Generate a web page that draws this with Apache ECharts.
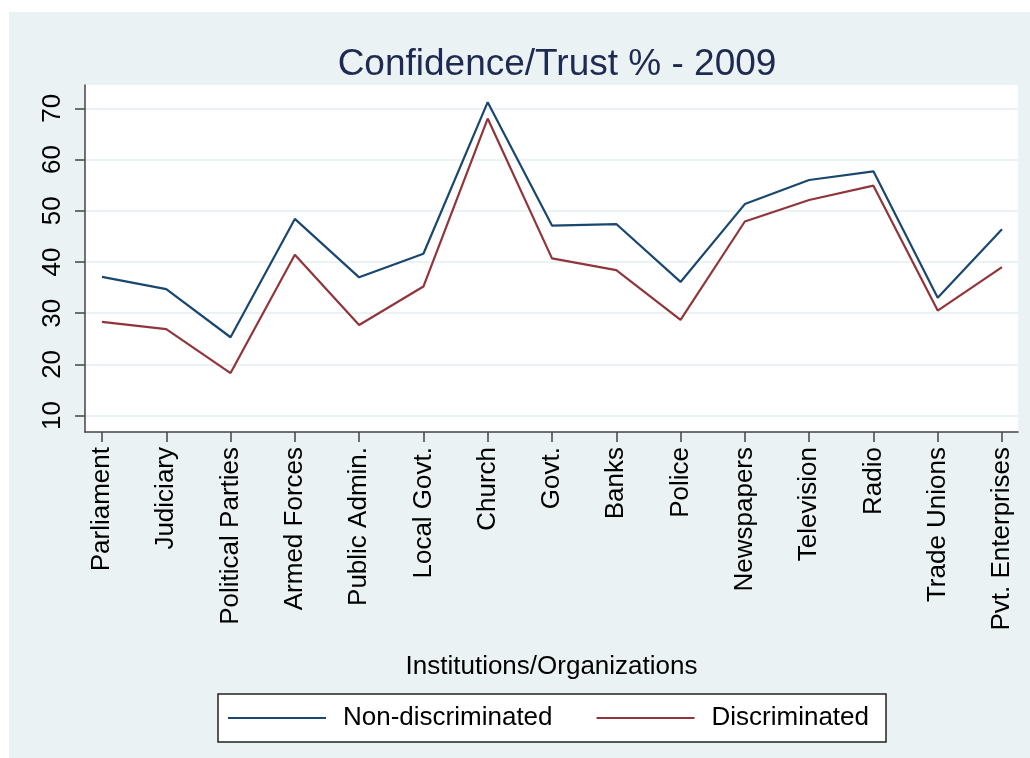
<!DOCTYPE html>
<html>
<head>
<meta charset="utf-8">
<script src="https://cdn.jsdelivr.net/npm/echarts@6/dist/echarts.min.js"></script>
<style>
  html, body { margin: 0; padding: 0; background: #fff; }
  #chart { position: absolute; left: 9px; top: 12px; width: 1021px; height: 746px; background: #eaf2f3; }
</style>
</head>
<body>
<div id="chart"></div>
<script>
// categories along the x axis
const institutions = ['Parliament', 'Judiciary', 'Political Parties', 'Armed Forces', 'Public Admin.',
  'Local Govt.', 'Church', 'Govt.', 'Banks', 'Police', 'Newspapers', 'Television', 'Radio',
  'Trade Unions', 'Pvt. Enterprises'];

// trust % per institution
const nonDiscriminated = [37.1, 34.7, 25.3, 48.4, 37.0, 41.6, 71.2, 47.1, 47.4, 36.1, 51.3, 56.0, 57.7, 33.0, 46.4];
const discriminated = [28.3, 26.9, 18.3, 41.4, 27.7, 35.2, 68.0, 40.7, 38.4, 28.7, 47.9, 52.1, 54.9, 30.5, 39.0];

const yTicks = [10, 20, 30, 40, 50, 60, 70];

const font = '"Liberation Sans", Arial, sans-serif';
const xTicks = institutions.map((_, i) => i);

const chart = echarts.init(document.getElementById('chart'));

chart.setOption({
  animation: false,
  title: {
    text: 'Confidence/Trust % - 2009',
    left: 543,
    top: 29,
    textAlign: 'center',
    textStyle: { fontFamily: font, fontSize: 37, fontWeight: 'normal', color: '#1e2a52' }
  },
  legend: {
    left: 209,
    top: 682,
    padding: [11, 17, 11, 10],
    backgroundColor: '#fff',
    borderColor: '#222',
    borderWidth: 1.5,
    borderRadius: 0,
    itemWidth: 98,
    itemHeight: 2,
    itemGap: 44,
    icon: 'rect',
    textStyle: { fontFamily: font, fontSize: 26, color: '#000', padding: [0, 0, 0, 12] },
    data: ['Non-discriminated', 'Discriminated']
  },
  grid: {
    left: 76,
    top: 73,
    right: 12,
    bottom: 326,
    show: true,
    backgroundColor: '#fff',
    borderWidth: 0,
    containLabel: false
  },
  xAxis: {
    type: 'value',
    min: -0.264,
    max: 14.249,
    name: 'Institutions/Organizations',
    nameLocation: 'middle',
    nameGap: 222,
    nameTextStyle: { fontFamily: font, fontSize: 26, color: '#000' },
    axisLine: { show: true, onZero: false, lineStyle: { color: '#444', width: 1.5 } },
    axisTick: { show: true, length: 10, customValues: xTicks, lineStyle: { color: '#444', width: 1.5 } },
    axisLabel: {
      customValues: xTicks,
      rotate: 90,
      margin: 15,
      fontFamily: font,
      fontSize: 26,
      color: '#000',
      formatter: v => institutions[Math.round(v)]
    },
    splitLine: { show: false }
  },
  yAxis: {
    type: 'value',
    min: 6.8,
    max: 74.55,
    axisLine: { show: true, onZero: false, lineStyle: { color: '#444', width: 1.5 } },
    axisTick: { show: true, length: 10, customValues: yTicks, lineStyle: { color: '#444', width: 1.5 } },
    axisLabel: {
      customValues: yTicks,
      rotate: 90,
      margin: 19,
      fontFamily: font,
      fontSize: 26,
      color: '#000'
    },
    splitLine: { show: true, lineStyle: { color: '#eaf2f3', width: 2 } }
  },
  series: [
    {
      name: 'Non-discriminated',
      type: 'line',
      symbol: 'none',
      color: '#1a476f',
      lineStyle: { width: 2.2 },
      data: nonDiscriminated.map((v, i) => [i, v])
    },
    {
      name: 'Discriminated',
      type: 'line',
      symbol: 'none',
      color: '#90353b',
      lineStyle: { width: 2.2 },
      data: discriminated.map((v, i) => [i, v])
    }
  ]
});
</script>
</body>
</html>
